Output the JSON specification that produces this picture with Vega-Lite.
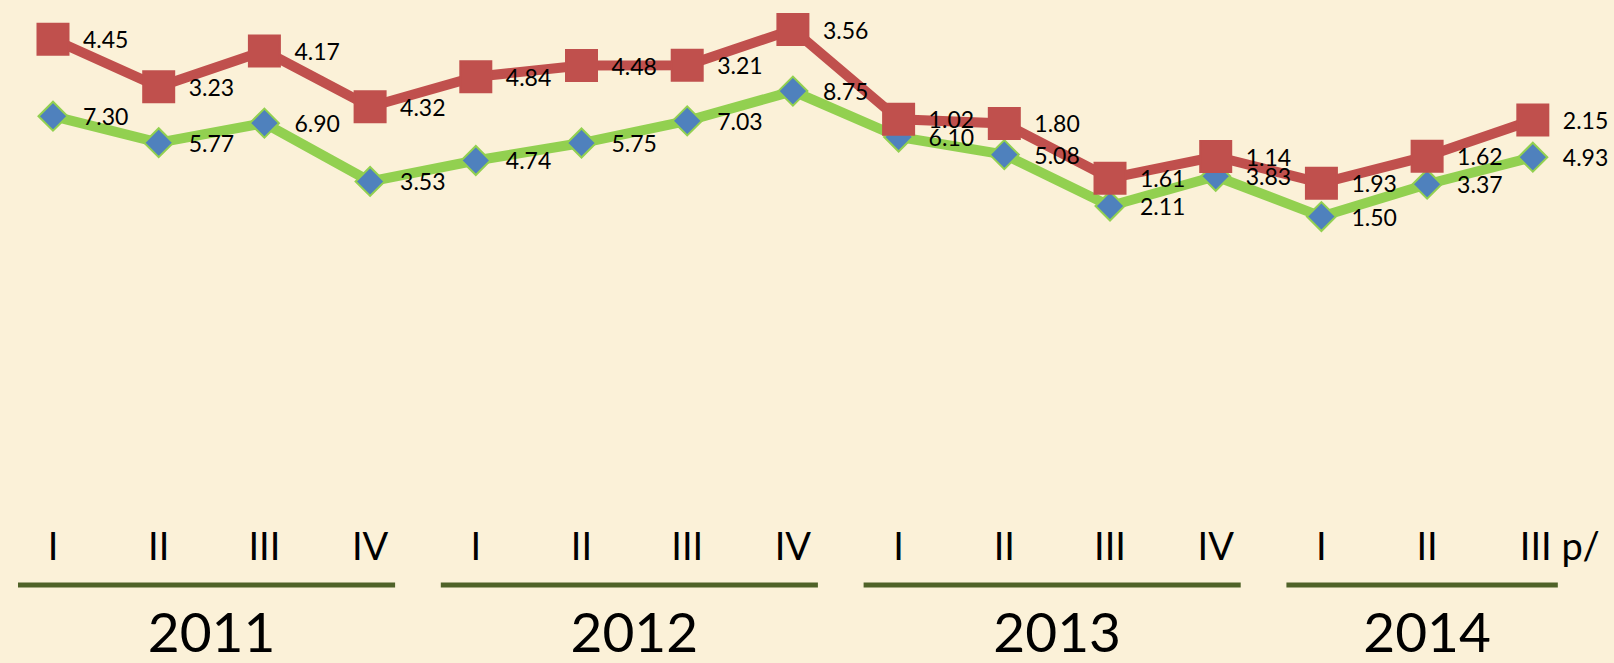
{
  "$schema": "https://vega.github.io/schema/vega-lite/v6.json",
  "width": 1614,
  "height": 663,
  "padding": 0,
  "autosize": {"type": "none"},
  "background": "#fbf1d8",
  "config": {"view": {"stroke": null}, "font": "Lato"},
  "data": {
    "values": [
      {"idx": 0, "year": "2011", "q": "I", "series": "s2", "value": 7.30},
      {"idx": 1, "year": "2011", "q": "II", "series": "s2", "value": 5.77},
      {"idx": 2, "year": "2011", "q": "III", "series": "s2", "value": 6.90},
      {"idx": 3, "year": "2011", "q": "IV", "series": "s2", "value": 3.53},
      {"idx": 4, "year": "2012", "q": "I", "series": "s2", "value": 4.74},
      {"idx": 5, "year": "2012", "q": "II", "series": "s2", "value": 5.75},
      {"idx": 6, "year": "2012", "q": "III", "series": "s2", "value": 7.03},
      {"idx": 7, "year": "2012", "q": "IV", "series": "s2", "value": 8.75},
      {"idx": 8, "year": "2013", "q": "I", "series": "s2", "value": 6.10},
      {"idx": 9, "year": "2013", "q": "II", "series": "s2", "value": 5.08},
      {"idx": 10, "year": "2013", "q": "III", "series": "s2", "value": 2.11},
      {"idx": 11, "year": "2013", "q": "IV", "series": "s2", "value": 3.83},
      {"idx": 12, "year": "2014", "q": "I", "series": "s2", "value": 1.50},
      {"idx": 13, "year": "2014", "q": "II", "series": "s2", "value": 3.37},
      {"idx": 14, "year": "2014", "q": "III p/", "series": "s2", "value": 4.93},
      {"idx": 0, "year": "2011", "q": "I", "series": "s1", "value": 4.45},
      {"idx": 1, "year": "2011", "q": "II", "series": "s1", "value": 3.23},
      {"idx": 2, "year": "2011", "q": "III", "series": "s1", "value": 4.17},
      {"idx": 3, "year": "2011", "q": "IV", "series": "s1", "value": 4.32},
      {"idx": 4, "year": "2012", "q": "I", "series": "s1", "value": 4.84},
      {"idx": 5, "year": "2012", "q": "II", "series": "s1", "value": 4.48},
      {"idx": 6, "year": "2012", "q": "III", "series": "s1", "value": 3.21},
      {"idx": 7, "year": "2012", "q": "IV", "series": "s1", "value": 3.56},
      {"idx": 8, "year": "2013", "q": "I", "series": "s1", "value": 1.02},
      {"idx": 9, "year": "2013", "q": "II", "series": "s1", "value": 1.80},
      {"idx": 10, "year": "2013", "q": "III", "series": "s1", "value": 1.61},
      {"idx": 11, "year": "2013", "q": "IV", "series": "s1", "value": 1.14},
      {"idx": 12, "year": "2014", "q": "I", "series": "s1", "value": 1.93},
      {"idx": 13, "year": "2014", "q": "II", "series": "s1", "value": 1.62},
      {"idx": 14, "year": "2014", "q": "III p/", "series": "s1", "value": 2.15}
    ]
  },
  "encoding": {
    "x": {"field": "idx", "type": "quantitative", "scale": {"domain": [-0.5014, 14.768], "nice": false, "zero": false}, "axis": null}
  },
  "layer": [
    {
      "mark": {"type": "line", "strokeWidth": 10, "strokeJoin": "miter", "strokeCap": "butt"},
      "encoding": {
        "y": {"field": "value", "type": "quantitative", "stack": "zero", "scale": {"domain": [-24.306, 14.017], "nice": false, "zero": false}, "axis": null},
        "color": {"field": "series", "type": "nominal", "scale": {"domain": ["s2", "s1"], "range": ["#92d050", "#c0504d"]}, "legend": null}
      }
    },
    {
      "mark": {"type": "point", "filled": true, "opacity": 1, "strokeWidth": 2},
      "encoding": {
        "y": {"field": "value", "type": "quantitative", "stack": "zero"},
        "shape": {"field": "series", "type": "nominal", "scale": {"domain": ["s2", "s1"], "range": ["diamond", "square"]}, "legend": null},
        "size": {"field": "series", "type": "nominal", "scale": {"domain": ["s2", "s1"], "range": [841, 961]}, "legend": null},
        "fill": {"field": "series", "type": "nominal", "scale": {"domain": ["s2", "s1"], "range": ["#4f81bd", "#c0504d"]}, "legend": null},
        "stroke": {"field": "series", "type": "nominal", "scale": {"domain": ["s2", "s1"], "range": ["#92d050", "#c0504d"]}, "legend": null}
      }
    },
    {
      "mark": {"type": "text", "align": "left", "baseline": "middle", "dx": 30, "dy": 2, "fontSize": 23, "color": "#000000"},
      "encoding": {
        "y": {"field": "value", "type": "quantitative", "stack": "zero"},
        "detail": {"field": "series", "type": "nominal"},
        "order": {"field": "series", "sort": "descending"},
        "text": {"field": "value", "type": "quantitative", "format": ".2f"}
      }
    },
    {
      "transform": [{"filter": "datum.series === 's2' && datum.idx < 14"}],
      "mark": {"type": "text", "align": "center", "baseline": "middle", "fontSize": 38, "color": "#000000"},
      "encoding": {
        "y": {"datum": -17.72},
        "text": {"field": "q", "type": "nominal"}
      }
    },
    {
      "transform": [{"filter": "datum.series === 's2' && datum.idx === 14"}],
      "mark": {"type": "text", "align": "left", "baseline": "middle", "dx": -13, "fontSize": 38, "color": "#000000"},
      "encoding": {
        "y": {"datum": -17.72},
        "text": {"field": "q", "type": "nominal"}
      }
    },
    {
      "transform": [
        {"filter": "datum.series === 's2'"},
        {"aggregate": [{"op": "min", "field": "idx", "as": "lo"}, {"op": "max", "field": "idx", "as": "hi"}], "groupby": ["year"]}
      ],
      "mark": {"type": "rule", "color": "#4f6228", "strokeWidth": 5, "xOffset": -35, "x2Offset": 25},
      "encoding": {
        "x": {"field": "lo", "type": "quantitative"},
        "x2": {"field": "hi"},
        "y": {"datum": -19.8}
      }
    },
    {
      "transform": [
        {"filter": "datum.series === 's2'"},
        {"aggregate": [{"op": "mean", "field": "idx", "as": "mid"}], "groupby": ["year"]}
      ],
      "mark": {"type": "text", "align": "center", "baseline": "middle", "fontSize": 55, "color": "#000000"},
      "encoding": {
        "x": {"field": "mid", "type": "quantitative"},
        "y": {"datum": -22.7},
        "text": {"field": "year", "type": "nominal"}
      }
    }
  ]
}
